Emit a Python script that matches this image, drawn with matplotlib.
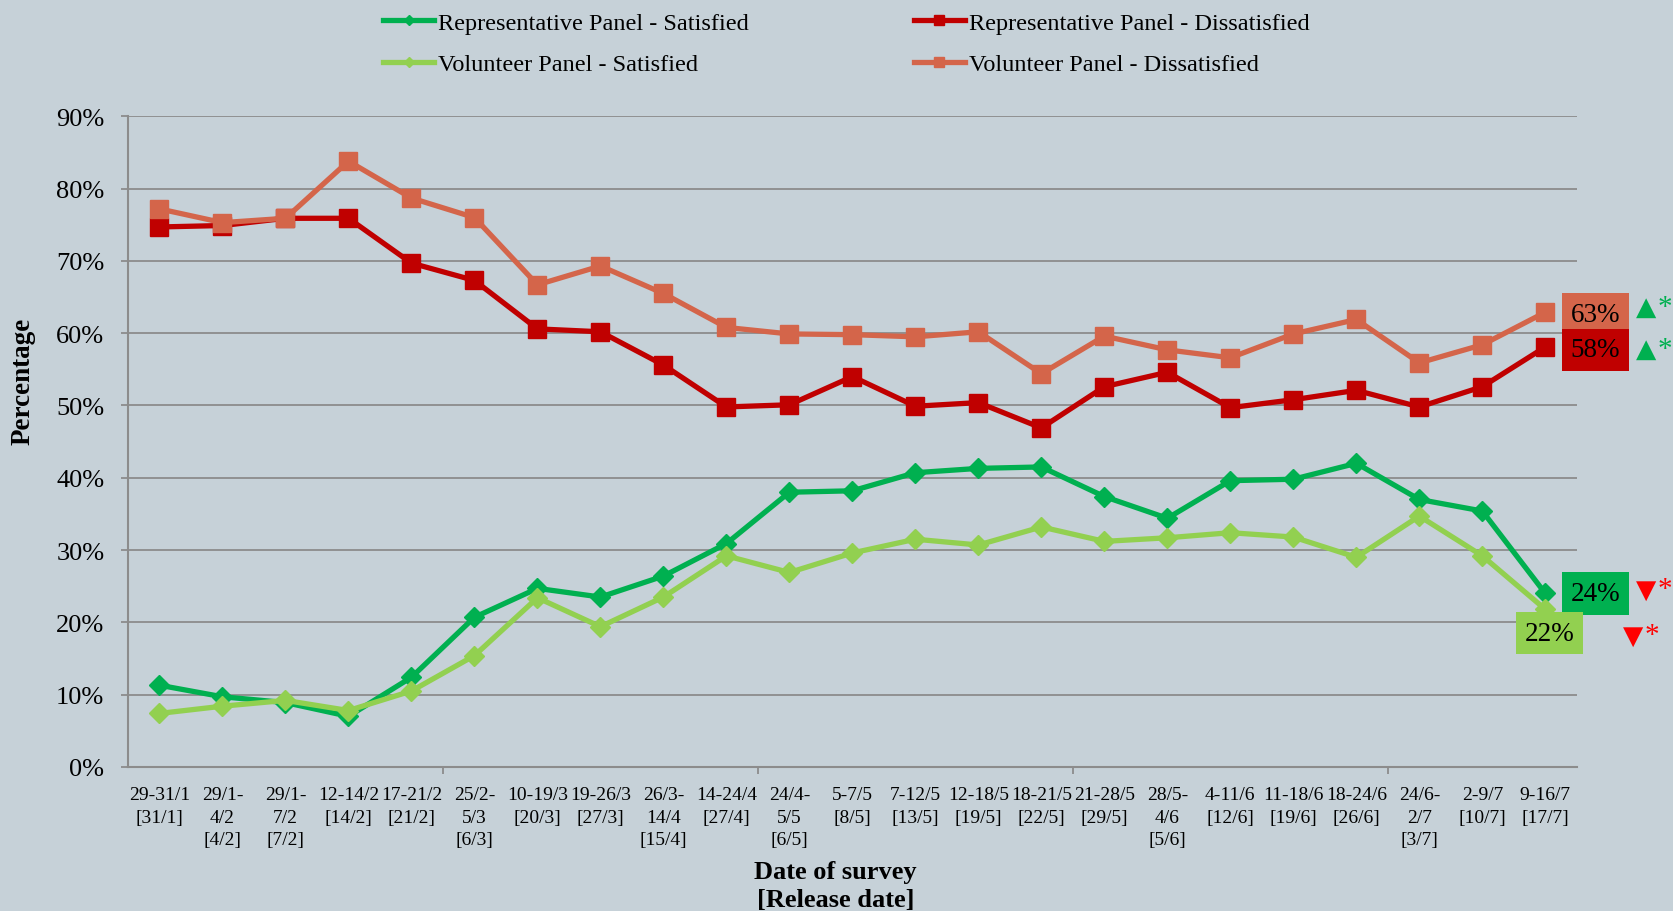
import matplotlib as mpl

mpl.use("Agg")

import matplotlib.pyplot as plt
import numpy as np
from matplotlib.ticker import FixedLocator, PercentFormatter

plt.rcParams["font.family"] = ["Liberation Serif", "DejaVu Sans"]

# survey dates with release dates in brackets
dates = [
    "29-31/1\n[31/1]", "29/1-\n4/2\n[4/2]", "29/1-\n7/2\n[7/2]", "12-14/2\n[14/2]",
    "17-21/2\n[21/2]", "25/2-\n5/3\n[6/3]", "10-19/3\n[20/3]", "19-26/3\n[27/3]",
    "26/3-\n14/4\n[15/4]", "14-24/4\n[27/4]", "24/4-\n5/5\n[6/5]", "5-7/5\n[8/5]",
    "7-12/5\n[13/5]", "12-18/5\n[19/5]", "18-21/5\n[22/5]", "21-28/5\n[29/5]",
    "28/5-\n4/6\n[5/6]", "4-11/6\n[12/6]", "11-18/6\n[19/6]", "18-24/6\n[26/6]",
    "24/6-\n2/7\n[3/7]", "2-9/7\n[10/7]", "9-16/7\n[17/7]",
]

rep_satisfied = [11.3, 9.7, 8.9, 7.0, 12.4, 20.7, 24.7, 23.5, 26.4, 30.9, 38.0, 38.2,
                 40.7, 41.3, 41.5, 37.4, 34.4, 39.6, 39.8, 42.0, 37.0, 35.4, 24.0]
vol_satisfied = [7.4, 8.4, 9.2, 7.8, 10.5, 15.4, 23.4, 19.4, 23.5, 29.2, 26.9, 29.6,
                 31.5, 30.7, 33.2, 31.2, 31.7, 32.4, 31.8, 29.0, 34.7, 29.2, 21.8]
rep_dissatisfied = [74.7, 74.9, 75.9, 75.9, 69.7, 67.3, 60.6, 60.2, 55.6, 49.8, 50.1, 54.0,
                    49.9, 50.4, 46.9, 52.6, 54.6, 49.7, 50.8, 52.1, 49.8, 52.6, 58.1]
vol_dissatisfied = [77.2, 75.3, 75.9, 83.8, 78.7, 76.0, 66.7, 69.3, 65.5, 60.8, 59.9, 59.8,
                    59.5, 60.2, 54.4, 59.6, 57.7, 56.6, 59.9, 61.9, 55.9, 58.4, 62.9]

BG = "#C6D1D8"
GRID = "#8C8C8C"
C_REP_SAT = "#00B050"
C_VOL_SAT = "#92D050"
C_REP_DIS = "#C00000"
C_VOL_DIS = "#D4654A"

fig = plt.figure(figsize=(16.73, 9.12), dpi=100)
fig.patch.set_facecolor(BG)
ax = fig.add_axes([0.0765, 0.158, 0.866, 0.7133])
ax.set_facecolor(BG)

x = np.arange(len(dates))
series = [
    ("Representative Panel - Satisfied", rep_satisfied, C_REP_SAT, "D", 10),
    ("Representative Panel - Dissatisfied", rep_dissatisfied, C_REP_DIS, "s", 13),
    ("Volunteer Panel - Satisfied", vol_satisfied, C_VOL_SAT, "D", 10),
    ("Volunteer Panel - Dissatisfied", vol_dissatisfied, C_VOL_DIS, "s", 13),
]
lines = {}
for i, (name, vals, col, mk, ms) in enumerate(series):
    (ln,) = ax.plot(x, vals, color=col, lw=3.8, marker=mk, ms=ms, mec=col, mfc=col,
                    label=name, zorder=3 + i, clip_on=False)
    lines[name] = ln

ax.set_xlim(-0.5, len(dates) - 0.5)
ax.set_ylim(0, 90)
ax.yaxis.set_major_locator(FixedLocator(np.arange(0, 91, 10)))
ax.yaxis.set_major_formatter(PercentFormatter(decimals=0))
ax.grid(axis="y", color=GRID, lw=1.3)
ax.set_axisbelow(True)

ax.set_xticks(x)
ax.set_xticklabels(dates, fontsize=14, linespacing=1.4)
ax.xaxis.set_minor_locator(FixedLocator([4.5, 9.5, 14.5, 19.5]))
ax.tick_params(axis="x", which="major", length=0, pad=14)
ax.tick_params(axis="x", which="minor", length=5, width=1.3, color=GRID)
ax.tick_params(axis="y", length=5, width=1.3, color=GRID, labelsize=19, pad=12)

for side in ("top", "right"):
    ax.spines[side].set_visible(False)
for side in ("left", "bottom"):
    ax.spines[side].set_color(GRID)
    ax.spines[side].set_linewidth(1.5)

fig.text(0.014, 0.582, "Percentage", rotation=90, ha="center", va="center",
         fontsize=19.5, fontweight="bold")
fig.text(0.4994, 0.056, "Date of survey\n[Release date]", ha="center", va="top",
         fontsize=19, fontweight="bold", linespacing=1.3)

# end-point labels with change markers
last = len(dates) - 1
end_labels = [
    (vol_dissatisfied, C_VOL_DIS, (50, -2), "▲", C_REP_SAT, (101, 5), (120, 5)),
    (rep_dissatisfied, C_REP_DIS, (50, -3), "▲", C_REP_SAT, (101, -2), (120, -2)),
    (rep_satisfied, C_REP_SAT, (50, 0), "▼", "#FF0000", (101, 4), (120, 4)),
    (vol_satisfied, C_VOL_SAT, (4, -24), "▼", "#FF0000", (88, -26), (107, -26)),
]
for vals, col, off, sym, scol, soff, aoff in end_labels:
    v = vals[last]
    ax.annotate(f"{v:.0f}%", (last, v), xytext=off, textcoords="offset pixels",
                ha="center", va="center", fontsize=19.5, zorder=10, annotation_clip=False,
                bbox=dict(boxstyle="square,pad=0.32", fc=col, ec="none"))
    ax.annotate(sym, (last, v), xytext=soff, textcoords="offset pixels", ha="center",
                va="center", fontsize=19, color=scol, family=["DejaVu Sans"],
                annotation_clip=False)
    ax.annotate("*", (last, v), xytext=aoff, textcoords="offset pixels", ha="center",
                va="center", fontsize=21, color=scol, annotation_clip=False)

handles = [lines[s[0]] for s in (series[0], series[2], series[1], series[3])]
fig.legend(handles, [h.get_label() for h in handles], ncol=2, loc="upper left",
           bbox_to_anchor=(0.216, 1.01), frameon=False, fontsize=17.5,
           handlelength=2.1, handletextpad=0.15, columnspacing=6.8,
           labelspacing=0.8, markerscale=0.55)

fig.savefig("out.png", dpi=100, facecolor=BG)
